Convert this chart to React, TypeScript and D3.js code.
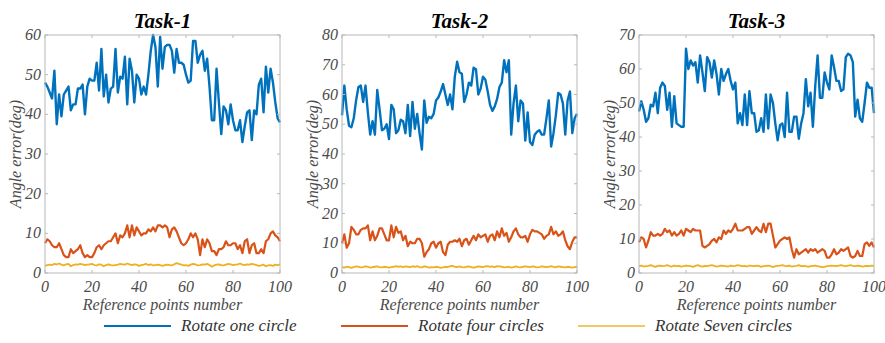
import React from "react";
import * as d3 from "d3";

const titles = ["Task-1", "Task-2", "Task-3"];
const yMaxes = [60, 80, 70];
const xTicks = [0, 20, 40, 60, 80, 100];
const seriesNames = ["Rotate one circle", "Rotate four circles", "Rotate Seven circles"];
const colors = ["#0072BD", "#D95319", "#EDB120"];

const blue1 = [
  48, 47, 45.5, 44, 51, 37.5, 45, 39.5, 45, 46,
  47, 41, 42.5, 42.5, 46.5, 46.5, 47.5, 40, 47, 49,
  48.5, 48.5, 53, 46, 56.5, 44.5, 50, 43, 46.5, 47,
  56.5, 45.5, 49.5, 49, 54.5, 42.5, 54, 51, 43, 50,
  49, 45, 47, 45, 50, 56, 60, 57, 47, 59.5,
  51.5, 57, 57.5, 57.5, 56, 50.5, 56.5, 53, 53, 52.5,
  50, 48, 48.5, 58.5, 58.5, 53, 55, 56, 51, 54,
  47, 38.5, 38.5, 51.5, 43, 35, 42, 41, 37.5, 42.5,
  38.5, 36, 36, 38.5, 33, 37, 40.5, 41, 33.5, 41,
  40, 47.5, 49, 40.5, 52, 45.5, 51.5, 48, 43, 39,
  38,
];
const orange1 = [
  7.5, 8.5, 8, 7, 6.5, 6.5, 7.5, 6, 4.5, 4,
  4, 6, 5, 5.5, 6, 7, 5, 4, 4.5, 4,
  4, 5, 6.5, 7, 6, 7, 7.5, 8, 8, 9,
  10, 7.5, 9.5, 9, 10, 12, 9, 12, 9.5, 11.5,
  10.5, 9.5, 10, 10, 11, 10.5, 11.5, 10.5, 12, 12,
  11.5, 12, 11.5, 9, 11, 11.5, 10.5, 9, 7.5, 7,
  7.5, 8.5, 10, 9, 10, 8.5, 4.5, 8.5, 6.5, 8.5,
  7.5, 5.5, 5.5, 4.5, 6, 6, 6.5, 8, 7, 7,
  7.5, 7.5, 6, 7, 5, 8, 8.5, 5, 7, 7.5,
  5, 5, 6, 5, 8, 8.5, 10, 10.5, 9.5, 9,
  8,
];
const yellow1 = [
  1.8, 2.0, 2.1, 2.0, 2.3, 2.2, 2.4, 2.1, 1.9, 2.2,
  2.3, 1.7, 2.0, 2.2, 2.1, 2.3, 2.2, 2.0, 2.1, 2.2,
  2.3, 2.0, 1.9, 2.2, 2.1, 1.7, 2.0, 2.2, 2.0, 1.9,
  2.0, 2.1, 2.3, 2.2, 2.1, 2.4, 2.2, 2.0, 2.2, 2.1,
  1.8, 2.0, 2.1, 2.3, 2.0, 2.2, 1.9, 2.0, 2.1, 2.0,
  1.8, 2.0, 2.1, 2.0, 1.9, 2.2, 2.5, 2.3, 2.1, 1.9,
  2.0, 1.8, 2.1, 2.3, 2.2, 1.9, 2.0, 2.2, 2.1, 2.3,
  2.0, 1.6, 1.9, 2.1, 2.2, 2.0, 1.9, 2.1, 2.3, 2.2,
  2.0, 2.1, 2.2, 2.4, 2.1, 2.0, 2.2, 2.1, 2.3, 2.2,
  2.0, 1.8, 1.9, 2.1, 1.7, 1.9, 2.0, 1.8, 2.1, 2.0,
  2.2,
];

const blue2 = [
  53, 63, 55, 49.5, 49, 52, 58, 62.5, 63, 57.5,
  63, 54, 46.5, 51, 46.5, 61.5, 55, 48, 48.5, 50,
  45, 56.5, 55, 47, 48, 51.5, 51, 47, 56.5, 46,
  57.5, 48.5, 53.5, 47, 41.5, 58, 50.5, 52.5, 52, 53.5,
  58, 59, 61, 63.5, 60, 56.5, 60, 55, 66, 71,
  67.5, 67, 57.5, 60, 64, 63, 69, 68.5, 60, 62,
  66, 65, 61, 56.5, 54.5, 56, 58.5, 62.5, 64, 71.5,
  67.5, 71.5, 46.5, 57, 63, 51, 58, 57, 44.5, 54,
  44, 43, 46.5, 47.5, 48, 46.5, 46.5, 52, 58, 42.5,
  47, 53, 60.5, 60, 57, 46.5, 58, 61, 47, 52,
  53.5,
];
const orange2 = [
  10, 13, 8.5, 10, 15.5, 14.5, 13, 13, 14.5, 15,
  15, 16, 11, 14, 11, 12.5, 15, 15, 13, 11,
  11, 16, 12, 15.5, 13.5, 14, 11, 12.5, 9, 10.5,
  10, 10, 11.5, 11.5, 10, 5.5, 7, 8, 10, 10.5,
  8.5, 10, 10.5, 7, 6, 9.5, 10.5, 10.5, 11, 10.5,
  11.5, 9, 11, 11.5, 9.5, 11, 12.5, 11, 13, 12,
  12.5, 13, 10.5, 12.5, 13, 11, 14, 12, 15, 12.5,
  13.5, 10.5, 12, 14, 15, 13, 12, 12, 12.5, 10.5,
  13, 14.5, 14, 14, 13.5, 13, 11.5, 12.5, 13, 15.5,
  13, 14, 12.5, 13, 14, 11, 9, 8, 10.5, 12,
  12,
];
const yellow2 = [
  2.0, 1.8, 2.1, 2.0, 1.7, 2.0, 2.2, 2.1, 1.9, 2.0,
  2.2, 2.1, 1.8, 2.0, 2.1, 2.2, 2.0, 1.9, 2.1, 2.0,
  1.8, 2.0, 2.1, 2.3, 2.1, 2.2, 2.0, 2.2, 2.1, 2.0,
  2.2, 2.1, 2.3, 2.0, 1.9, 2.2, 2.1, 1.8, 2.0, 1.9,
  2.1, 2.0, 1.7, 1.9, 2.1, 2.0, 2.3, 2.4, 2.1, 2.0,
  2.2, 2.0, 1.9, 2.1, 2.2, 2.0, 1.8, 2.0, 2.2, 2.1,
  2.0, 2.2, 2.3, 2.1, 2.2, 2.0, 2.3, 2.2, 2.1, 1.9,
  2.0, 2.1, 1.8, 2.0, 2.2, 2.0, 1.9, 2.1, 2.2, 2.1,
  2.0, 2.2, 2.1, 1.9, 2.0, 2.2, 2.1, 2.0, 2.1, 2.3,
  2.1, 1.9, 2.2, 2.1, 2.0, 1.9, 2.1, 2.0, 1.8, 2.0,
  2.1,
];

const blue3 = [
  47.5, 50.5, 48, 44.5, 45.5, 49.5, 49, 53, 47, 54.5,
  56, 55, 48, 53, 43, 52, 44, 43.5, 43, 43,
  66, 60, 62.5, 61, 62, 56, 64, 59, 53.5, 63.5,
  62, 57.5, 62.5, 58.5, 52.5, 60, 56.5, 58.5, 60, 56.5,
  54, 56, 44, 47, 43.5, 52.5, 43.5, 53.5, 47, 47,
  41.5, 42, 45.5, 41.5, 52.5, 42.5, 52.5, 50, 44, 39,
  43.5, 44, 40, 53, 41.5, 41.5, 46, 46, 39.5, 44,
  47, 57, 49, 53, 43, 55, 64, 51.5, 51.5, 59,
  56, 54, 64, 60.5, 56.5, 56.5, 53.5, 54, 63.5, 64.5,
  64, 62, 46, 51, 45.5, 44.5, 50, 56, 54.5, 54.5,
  47,
];
const orange3 = [
  9, 10.5, 10, 7.5, 9.5, 12, 11, 11, 11.5, 11,
  11.5, 13, 12, 12.5, 11, 12, 11, 11.5, 12.5, 11,
  13, 12.5, 12, 13, 12.5, 12.5, 12.5, 8, 7.5, 8,
  8.5, 9.5, 10, 9, 10.5, 10, 12.5, 11.5, 12.5, 12,
  13, 14.5, 12.5, 12.5, 12.5, 13, 13.5, 13.5, 11.5, 12.5,
  13.5, 12.5, 12, 14.5, 12, 14.5, 14.5, 11, 7.5, 8.5,
  9.5, 10, 10.5, 10, 10.5, 7, 4.5, 7, 5.5, 6,
  6.5, 7, 6, 7, 6.5, 7, 6, 6.5, 7, 6.5,
  4.5, 4.5, 5.5, 7, 5.5, 6, 7, 6.5, 7, 7.5,
  5, 4.5, 5, 6.5, 5, 5, 8.5, 9, 8, 9,
  7.5,
];
const yellow3 = [
  2.0, 2.2, 1.9, 2.0, 2.1, 2.3, 2.0, 1.8, 2.1, 2.2,
  2.0, 2.1, 2.3, 2.0, 1.9, 2.2, 2.0, 2.1, 1.9, 2.0,
  2.2, 2.1, 2.0, 1.8, 2.1, 2.3, 2.0, 1.9, 2.1, 2.0,
  2.2, 2.3, 2.1, 1.9, 2.0, 2.2, 2.1, 2.0, 1.9, 2.2,
  2.0, 2.1, 2.3, 2.2, 2.0, 2.1, 1.9, 2.2, 2.1, 2.0,
  2.2, 2.1, 1.8, 2.0, 2.1, 2.2, 2.0, 1.7, 2.0, 2.1,
  2.2, 2.3, 2.1, 2.0, 2.2, 1.9, 2.0, 2.1, 2.3, 2.0,
  2.1, 2.0, 1.8, 2.0, 2.1, 2.2, 2.0, 1.9, 1.7, 1.8,
  2.0, 2.1, 2.2, 2.1, 2.0, 2.2, 2.3, 2.1, 2.0, 2.2,
  2.3, 2.1, 2.0, 2.2, 2.1, 1.9, 2.0, 2.1, 2.0, 2.2,
  2.1,
];

const panelSeries = [
  [blue1, orange1, yellow1],
  [blue2, orange2, yellow2],
  [blue3, orange3, yellow3],
];

const W = 885;
const H = 343;
const plotLefts = [45, 342, 639];
const plotWidth = 235;
const plotTop = 35;
const plotBottom = 273;
const serif = "Liberation Serif";
const lineWidths = [2.4, 2.2, 1.8];

function Panel({ idx }: { idx: number }) {
  const left = plotLefts[idx];
  const right = left + plotWidth;
  const x = d3.scaleLinear().domain([0, 100]).range([left, right]);
  const y = d3.scaleLinear().domain([0, yMaxes[idx]]).range([plotBottom, plotTop]);
  const yTicks = d3.range(0, yMaxes[idx] + 1, 10);
  const line = d3
    .line<number>()
    .x((_, i) => x(i))
    .y((d) => y(d));
  const axisColor = "#b8b8b8";
  const textColor = "#4a4a4a";
  const tl = 3;
  const txt = { fontFamily: serif, fontStyle: "italic" as const };
  return (
    <g>
      <text
        x={(left + right) / 2}
        y={28}
        textAnchor="middle"
        style={{ fontFamily: serif, fontStyle: "italic", fontWeight: "bold", fontSize: 21 }}
        fill="#000"
      >
        {titles[idx]}
      </text>
      {[...panelSeries[idx]].reverse().map((s, k) => {
        const si = 2 - k;
        return (
          <path
            key={si}
            d={line(s) || ""}
            fill="none"
            stroke={colors[si]}
            strokeWidth={lineWidths[si]}
            strokeLinejoin="round"
          />
        );
      })}
      <rect
        x={left}
        y={plotTop}
        width={plotWidth}
        height={plotBottom - plotTop}
        fill="none"
        stroke={axisColor}
        strokeWidth={1}
      />
      {yTicks.map((t) => (
        <g key={"y" + t}>
          <line x1={left} x2={left + tl} y1={y(t)} y2={y(t)} stroke={axisColor} />
          <line x1={right} x2={right - tl} y1={y(t)} y2={y(t)} stroke={axisColor} />
          <text
            x={left - 4}
            y={y(t) + 5}
            textAnchor="end"
            style={{ ...txt, fontSize: 16 }}
            fill={textColor}
          >
            {t}
          </text>
        </g>
      ))}
      {xTicks.map((t) => (
        <g key={"x" + t}>
          <line x1={x(t)} x2={x(t)} y1={plotBottom} y2={plotBottom - tl} stroke={axisColor} />
          <line x1={x(t)} x2={x(t)} y1={plotTop} y2={plotTop + tl} stroke={axisColor} />
          <text
            x={x(t)}
            y={plotBottom + 19}
            textAnchor="middle"
            style={{ ...txt, fontSize: 16 }}
            fill={textColor}
          >
            {t}
          </text>
        </g>
      ))}
      <text
        x={(left + right) / 2}
        y={310}
        textAnchor="middle"
        style={{ ...txt, fontSize: 16 }}
        fill={textColor}
      >
        Reference points number
      </text>
      <text
        transform={`translate(${left - 24},${(plotTop + plotBottom) / 2}) rotate(-90)`}
        textAnchor="middle"
        style={{ ...txt, fontSize: 16 }}
        fill={textColor}
      >
        Angle error(deg)
      </text>
    </g>
  );
}

const legendX = [104, 341, 578];

export default function App() {
  return (
    <svg
      width={W}
      height={H}
      style={{ position: "absolute", left: 0, top: 0, background: "#fff" }}
    >
      <rect x={0} y={0} width={W} height={H} fill="#fff" />
      {[0, 1, 2].map((i) => (
        <Panel key={i} idx={i} />
      ))}
      {seriesNames.map((name, i) => (
        <g key={name}>
          <line
            x1={legendX[i]}
            x2={legendX[i] + 67}
            y1={326}
            y2={326}
            stroke={colors[i]}
            strokeWidth={2.2}
            opacity={i === 2 ? 0.7 : 1}
          />
          <text
            x={legendX[i] + 77}
            y={331}
            style={{ fontFamily: serif, fontStyle: "italic", fontSize: 17 }}
            fill="#333"
          >
            {name}
          </text>
        </g>
      ))}
    </svg>
  );
}
